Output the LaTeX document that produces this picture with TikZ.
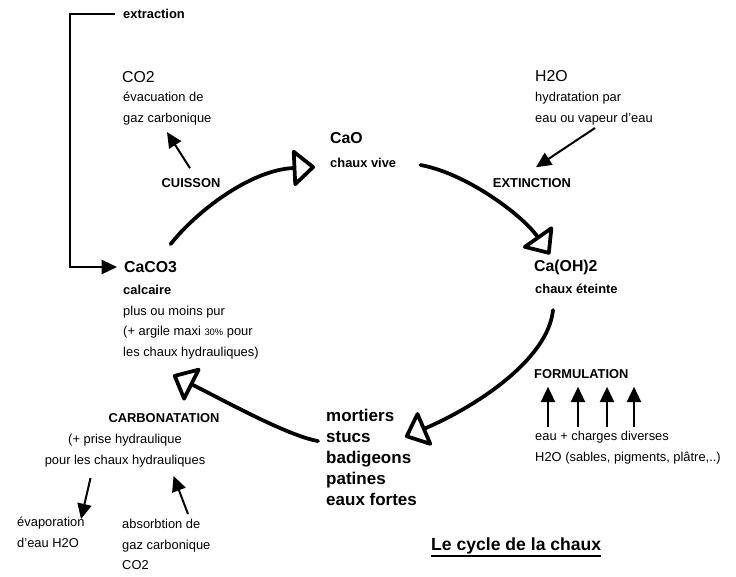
\documentclass[tikz,border=0pt]{standalone}
\usepackage{fontspec}
\setmainfont{Liberation Sans}
\usepackage{tikz}
\usetikzlibrary{arrows.meta}

\begin{document}
\begin{tikzpicture}[x=0.03cm, y=-0.03cm,
  txt/.style={inner sep=0pt, align=left, font=\fontsize{11}{17.5}\selectfont},
  lbl/.style={inner sep=0pt, font=\bfseries\fontsize{11}{17.5}\selectfont},
  chem/.style={inner sep=0pt, font=\fontsize{13.5}{16}\selectfont},
  chembf/.style={inner sep=0pt, font=\bfseries\fontsize{13.5}{16}\selectfont},
  smallarrow/.style={line width=1.7pt, -{Triangle[length=13pt, width=12pt]}},
  cyclearrow/.style={line width=3.2pt, line cap=round, -{Triangle[open, round, length=20pt, width=34pt]}}]

  \useasboundingbox (0,0) rectangle (736,576);

  \node[lbl, anchor=west] (extraction) at (123,14) {extraction};

  \node[chem, anchor=west] (co2) at (122,77) {CO2};
  \node[txt, anchor=north west] (evac) at (123,92) {évacuation de\\gaz carbonique};
  \node[lbl] (cuisson) at (191,183) {CUISSON};

  \node[chembf, anchor=west] (cao) at (330,138) {CaO};
  \node[lbl, anchor=west] (vive) at (330,163) {chaux vive};

  \node[chem, anchor=west] (h2o) at (535,76) {H2O};
  \node[txt, anchor=north west] (hydr) at (535,92) {hydratation par\\eau ou vapeur d'eau};
  \node[lbl] (extinction) at (532,183) {EXTINCTION};

  \node[chembf, anchor=west] (caco3) at (124,267) {CaCO3};
  \node[txt, anchor=north west] (calc) at (123,285)
    {\textbf{calcaire}\\plus ou moins pur\\(+ argile maxi {\fontsize{8}{8}\selectfont 30\%} pour\\les chaux hydrauliques)};

  \node[chembf, anchor=west] (caoh) at (534,267) {Ca(OH)2};
  \node[lbl, anchor=west] (eteinte) at (535,289) {chaux éteinte};

  \node[lbl, anchor=west] (formulation) at (534,374) {FORMULATION};
  \node[txt, anchor=north west] (charges) at (535,431) {eau + charges diverses\\H2O (sables, pigments, plâtre,..)};

  \node[inner sep=0pt, align=left, font=\bfseries\fontsize{14.5}{17.9}\selectfont, anchor=north west] (mortiers) at (326,409)
    {mortiers\\stucs\\badigeons\\patines\\eaux fortes};

  \node[lbl] (carbonatation) at (164,418) {CARBONATATION};
  \node[txt, align=center, anchor=north] (prise) at (125,434) {(+ prise hydraulique\\pour les chaux hydrauliques};
  \node[txt, anchor=north west] (evap) at (17,517) {évaporation\\d'eau H2O};
  \node[txt, anchor=north west] (absorb) at (122,519) {absorbtion de\\gaz carbonique\\CO2};

  \node[inner sep=0pt, font=\bfseries\fontsize{15}{18}\selectfont, anchor=base west] (title) at (431,550) {Le cycle de la chaux};
  \draw[line width=1.3pt] ([yshift=-2pt]title.south west) -- ([yshift=-2pt]title.south east);

  \draw[smallarrow] ([xshift=-7pt]extraction.west) -- ++(-45,0) |- ([xshift=-6pt]caco3.west);
  \draw[smallarrow] ([shift={(-1,-10)}]cuisson.north) -- ([shift={(44,7)}]evac.south west);
  \draw[smallarrow] ([shift={(1,3)}]hydr.south) -- ([shift={(4,-11)}]extinction.north);
  \draw[smallarrow] ([shift={(46,11)}]prise.south west) -- ([shift={(64,2)}]evap.north west);
  \draw[smallarrow] ([shift={(66,-5)}]absorb.north west) -- ([shift={(129,9)}]prise.south west);
  \foreach \dx in {13,43,72,99}
    \draw[smallarrow] ([shift={(\dx,-4)}]charges.north west) -- ([shift={(\dx+1,8)}]formulation.south west);

  \draw[cyclearrow] ([shift={(20,-17)}]caco3.north) .. controls +(25,-32) and +(-65,3) .. ([shift={(-15,4)}]vive.west);
  \draw[cyclearrow] ([shift={(24,2)}]vive.east) .. controls +(45,8) and +(-28,-40) .. ([shift={(-16,-5)}]caoh.north);
  \draw[cyclearrow] ([shift={(18,16)}]eteinte.south west) .. controls +(-5,50) and +(70,-30) .. ([shift={(79,28)}]mortiers.north west);
  \draw[cyclearrow] ([shift={(-8,32)}]mortiers.north west) .. controls +(-30,-5) and +(50,25) .. ([shift={(50,16)}]calc.south west);
\end{tikzpicture}
\end{document}
